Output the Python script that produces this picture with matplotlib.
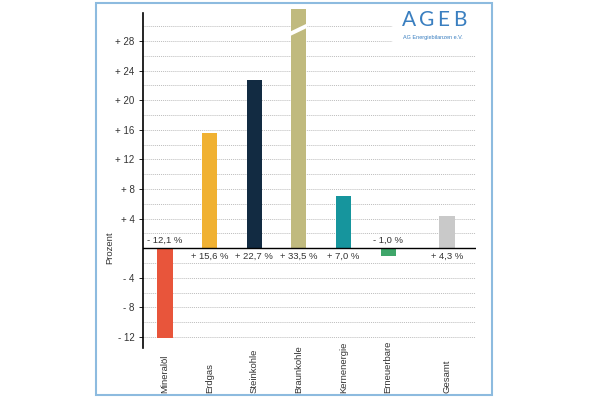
import numpy as np
import matplotlib
matplotlib.use("Agg")
import matplotlib.pyplot as plt
from matplotlib.patches import Rectangle, Polygon

plt.rcParams["font.family"] = ["Liberation Sans", "DejaVu Sans"]

# ---------------- DATA ----------------
categories = ["Mineralöl", "Erdgas", "Steinkohle", "Braunkohle",
              "Kernenergie", "Erneuerbare", "Gesamt"]
values = [-12.1, 15.6, 22.7, 33.5, 7.0, -1.0, 4.3]
labels = ["- 12,1 %", "+ 15,6 %", "+ 22,7 %", "+ 33,5 %",
          "+ 7,0 %", "- 1,0 %", "+ 4,3 %"]
positions = [1, 2, 3, 4, 5, 6, 7.32]
colors = ["#e8553b", "#f0b132", "#122b42", "#c0ba7e",
          "#16959d", "#3fa66a", "#c9c9c9"]
yticks = [-12, -8, -4, 4, 8, 12, 16, 20, 24, 28]
ytick_labels = ["- 12", "- 8", "- 4", "+ 4", "+ 8", "+ 12",
                "+ 16", "+ 20", "+ 24", "+ 28"]

ymin, ymax = -13.5, 31.8
bar_cap = 32.3  # broken bar is cut here

# ---------------- FIGURE ----------------
fig = plt.figure(figsize=(5.97, 3.98), dpi=100)
ax = fig.add_axes([143 / 597, 1 - 348 / 398, 333 / 597, 335 / 398])
ax.set_xlim(0.507, 7.97)
ax.set_ylim(ymin, ymax)

# frame around the chart
fig.patches.append(Rectangle((96 / 597, 3 / 398), 396 / 597, 392 / 398,
                             transform=fig.transFigure, fill=False,
                             edgecolor="#8dbbdf", linewidth=1.5))

# gridlines (the top two stop at the logo)
logo_edge = (392 - 143) / 333
for g in np.arange(-12, 31, 2):
    if g == 0:
        continue
    ax.axhline(g, xmax=logo_edge if g >= 28 else 1, color="#bdbdbd",
               linewidth=0.7, linestyle=(0, (1, 1)), zorder=0)
ax.axhline(0, color="black", linewidth=1.0, zorder=3)

# bars
width = 0.34
shown = [min(v, bar_cap) for v in values]
ax.bar(positions, shown, width=width, color=colors, zorder=2, clip_on=False)

# break mark on the cut bar
bi = values.index(max(values))
bx = positions[bi]
brk = Polygon([(bx - width / 2 - 0.02, 28.7), (bx + width / 2 + 0.02, 29.8),
               (bx + width / 2 + 0.02, 30.4), (bx - width / 2 - 0.02, 29.3)],
              closed=True, facecolor="white", edgecolor="none", zorder=4,
              clip_on=False)
ax.add_patch(brk)

# value labels
for x, v, lab in zip(positions, values, labels):
    if v >= 0:
        ax.text(x, -0.45, lab, ha="center", va="top", fontsize=6.8,
                color="#333333")
    else:
        ax.text(x, 0.5, lab, ha="center", va="bottom", fontsize=6.8,
                color="#333333")

# axes styling
for s in ["top", "right", "bottom"]:
    ax.spines[s].set_visible(False)
ax.spines["left"].set_linewidth(1.2)
ax.set_yticks(yticks)
ax.set_yticklabels(ytick_labels, fontsize=7, color="#333333")
ax.tick_params(axis="y", length=3, width=0.6, pad=3)
ax.set_xticks([])
ax.set_ylabel("Prozent", fontsize=6.8, color="#333333")
ax.yaxis.set_label_coords(-0.085, (0 - ymin) / (ymax - ymin))

# category labels, bottom aligned
for x, c in zip(positions, categories):
    ax.text(x, (348 - 393) / 335, c, rotation=90, ha="center", va="bottom",
            fontsize=6.8, color="#333333", clip_on=False,
            transform=ax.get_xaxis_transform())

# logo
for lx, letter in zip([409.5, 427, 443.5, 459.5], "AGEB"):
    fig.text(lx / 597, 1 - 20.5 / 398, letter, ha="center", va="center",
             fontsize=15, color="#3a7fc0", family=["Lato", "DejaVu Sans"],
             fontweight="normal")
fig.text(403 / 597, 1 - 38 / 398, "AG Energiebilanzen e.V.", ha="left",
         va="center", fontsize=4, color="#3a7fc0")

fig.savefig("out.png", dpi=100, facecolor="white")
